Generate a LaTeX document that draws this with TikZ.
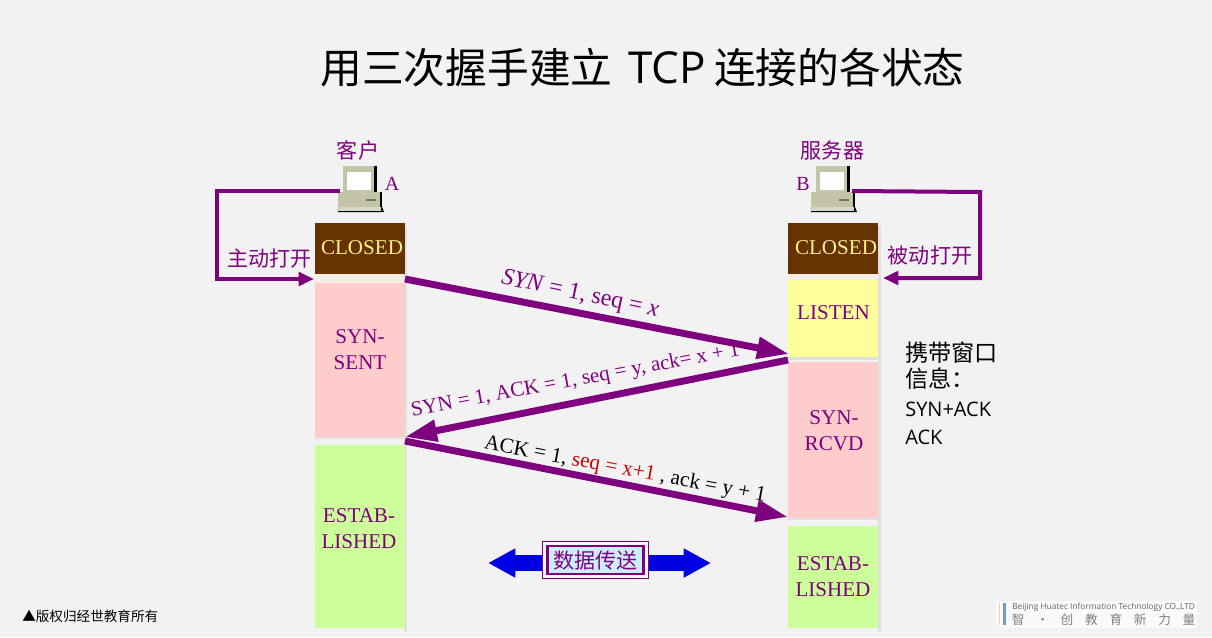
\documentclass[tikz,border=0pt]{standalone}
\usepackage{fontspec}
\setmainfont{Liberation Serif}
\newfontfamily\cjk{Noto Sans CJK SC}
\newfontfamily\lat{Open Sans}
\usetikzlibrary{arrows.meta}
\definecolor{pur}{HTML}{7F007F}
\definecolor{bgc}{HTML}{F2F2F2}
\definecolor{brn}{HTML}{663300}
\definecolor{pnk}{HTML}{FFCCCC}
\definecolor{grn}{HTML}{CCFF99}
\definecolor{yel}{HTML}{FFFF99}
\definecolor{cream}{HTML}{FFF08C}
\definecolor{pcb}{HTML}{C4C4A8}
\definecolor{beige}{HTML}{F5EEE6}
\definecolor{lightblue}{HTML}{CCEEFF}
\tikzset{
 statebox/.style={fill=#1,draw=none,minimum width=89.5*0.75pt,inner sep=0,anchor=north west},
 statetext/.style={text=pur,align=center,inner sep=0,font=\fontsize{15.8pt}{19.5pt}\selectfont},
 shade bar/.style={fill=black!12,draw=none},
 thick arrow/.style={draw=pur,line width=5.2pt,-{Triangle[length=24pt,width=15.5pt]}},
 thin arrow/.style={draw=pur,line width=3pt,line join=miter,-{Triangle[length=11.5pt,width=10pt]}},
 cjklabel/.style={text=pur,inner sep=0,font=\cjk\fontsize{15.8pt}{18pt}\selectfont},
 msg/.style={inner sep=0,rotate=#1,text=pur},
 notetext/.style={inner sep=0,anchor=west},
}
\newcommand{\computer}[2]{%
 \begin{scope}[shift={(#1,#2)}]
  \fill[black] (-14,-41) rectangle (17,-15);
  \fill[pcb] (-17,-41) rectangle (14,-15);
  \fill[white] (-13,-35) rectangle (11,-17);
  \fill[black] (-20,-15) rectangle (22,1);
  \fill[pcb] (-22,-15) rectangle (20,0);
  \fill[pcb!60!black] (6,-8) rectangle (16,-6.5);
  \fill[black] (-22,0) -- (22,0) -- (24,5) -- (-22,5) -- cycle;
  \fill[pcb!70!white] (-23,0) rectangle (21,4);
 \end{scope}}
\newcommand{\logochar}[1]{\makebox[18.3pt][c]{#1}}
\begin{document}
\begin{tikzpicture}[x=0.75pt,y=-0.75pt]
\useasboundingbox (0,0) rectangle (1212,637);
\fill[bgc] (0,0) rectangle (1212,637);
% title
\node[inner sep=0,font=\cjk\fontsize{31.3pt}{36pt}\selectfont] (title) at (642.5,68) {用三次握手建立\hspace{12pt}{\lat\fontsize{33pt}{36pt}\selectfont TCP}\hspace{6pt}连接的各状态};
% shadows
\fill[beige] (315,274) rectangle (404,283);
\fill[beige] (788,274) rectangle (878,280);
\fill[shade bar] (404,226) rectangle (407,632);
\fill[shade bar] (878,226) rectangle (881,632);
\fill[shade bar] (315,437) rectangle (407,439);
\fill[shade bar] (788,357) rectangle (881,360);
\fill[shade bar] (788,518) rectangle (881,520);
% state boxes
\node[statebox=brn,minimum height=51*0.75pt] (closedA) at (315,223) {};
\node[statetext,text=cream] (closedAT) at (362,248) {CLOSED};
\node[statebox=pnk,minimum height=154*0.75pt] (sentA) at (315,283) {};
\node[statetext] (sentT) at (360,350) {SYN-\\SENT};
\node[statebox=grn,minimum height=183*0.75pt] (estA) at (315,445) {};
\node[statetext] (estT) at (359,529) {ESTAB-\\LISHED};
\node[statebox=brn,minimum height=51*0.75pt] (closedB) at (788,223) {};
\node[statetext,text=cream] (closedBT) at (836,248) {CLOSED};
\node[statebox=yel,minimum height=77*0.75pt] (listenB) at (788,280) {};
\node[statetext] (listenT) at (833.5,313) {LISTEN};
\node[statebox=pnk,minimum height=156*0.75pt] (rcvdB) at (788,362) {};
\node[statetext] (rcvdT) at (834,431) {SYN-\\RCVD};
\node[statebox=grn,minimum height=102*0.75pt] (estB) at (788,526) {};
\node[statetext] (estTb) at (833,577) {ESTAB-\\LISHED};
% computers
\computer{360}{207}
\computer{833}{207}
\coordinate (pcA) at (340,191);
\coordinate (pcB) at (852,191);
\node[cjklabel] (clientL) at (358,150) {客户};
\node[cjklabel] (serverL) at (832.5,150) {服务器};
\node[inner sep=0,text=pur,font=\fontsize{15pt}{16pt}\selectfont] (aL) at (392,184) {A};
\node[inner sep=0,text=pur,font=\fontsize{15pt}{16pt}\selectfont] (bL) at (803,184) {B};
% open arrows
\coordinate (inA) at (314,279);
\coordinate (inB) at (883,278);
\draw[thin arrow] (pcA) -- (217,191) -- (217,279) -- (inA);
\draw[thin arrow] (pcB) -- (980,192) -- (980,278) -- (inB);
\node[cjklabel] (actL) at (269.5,259) {主动打开};
\node[cjklabel] (pasL) at (930,256) {被动打开};
% messages
\coordinate (m1a) at (405,279);
\coordinate (m1b) at (789,354);
\coordinate (m2a) at (788,360);
\coordinate (m2b) at (405,437);
\coordinate (m3a) at (405,441);
\coordinate (m3b) at (788,517);
\draw[thick arrow] (m1a) -- (m1b);
\draw[thick arrow] (m2a) -- (m2b);
\draw[thick arrow] (m3a) -- (m3b);
\node[msg=-12,font=\fontsize{18pt}{19pt}\selectfont] (l1) at (580,295) {\textit{SYN} = 1, seq = \textit{x}};
\node[msg=10.5,font=\fontsize{15.8pt}{19pt}\selectfont] (l2) at (575.5,381) {SYN = 1, ACK = 1, seq = y, ack= x + 1};
\node[msg=-10.6,text=black,font=\fontsize{16pt}{19pt}\selectfont] (l3) at (625,470) {ACK = 1, \textcolor{red!80!black}{seq = x+1} , ack = y + 1};
% right note
\node[notetext,font=\cjk\fontsize{17.4pt}{20pt}\selectfont] (note1) at (905,353) {携带窗口};
\node[notetext,font=\cjk\fontsize{17.4pt}{20pt}\selectfont] (note2) at (905,379) {信息：};
\node[notetext,font=\lat\fontsize{15pt}{20pt}\selectfont] (note3) at (905,409) {SYN+ACK};
\node[notetext,font=\lat\fontsize{15pt}{20pt}\selectfont] (note4) at (905,437) {ACK};
% data transfer
\coordinate (dl) at (488,563);
\coordinate (dr) at (711,563);
\draw[blue!90!black,line width=12pt,{Triangle[length=20.5pt,width=20.5pt]}-{Triangle[length=20.5pt,width=20.5pt]}] (dl) -- (dr);
\node[draw=pur,line width=1.4pt,fill=bgc!60!white,minimum width=106*0.75pt,minimum height=37*0.75pt,inner sep=0] (dataOut) at (595.5,560) {};
\node[draw=pur,line width=1.8pt,fill=lightblue,minimum width=96*0.75pt,minimum height=28*0.75pt,inner sep=0,text=pur,font=\cjk\fontsize{15.8pt}{18pt}\selectfont] (dataIn) at (595.5,560) {数据传送};
% footer
\node[inner sep=0,anchor=west,font=\cjk\fontsize{10.2pt}{12pt}\selectfont] (copy) at (22,616) {▲版权归经世教育所有};
\fill[bgc!40!white] (996,601) rectangle (1197,628);
\fill[orange!40!white] (998.5,603) rectangle (1000,625);
\fill[cyan!50!blue!60!white] (1003,603) rectangle (1006,625);
\node[inner sep=0,anchor=west,text=black!60,font=\lat\fontsize{6.25pt}{8pt}\selectfont] (logo1) at (1012,607) {Beijing Huatec Information Technology CO.,LTD};
\node[inner sep=0,anchor=west,text=black!50,font=\cjk\fontsize{9.5pt}{12pt}\selectfont] (logo2) at (1005.8,619.5) {\logochar{智}\logochar{•}\logochar{创}\logochar{教}\logochar{育}\logochar{新}\logochar{力}\logochar{量}};
\end{tikzpicture}
\end{document}
